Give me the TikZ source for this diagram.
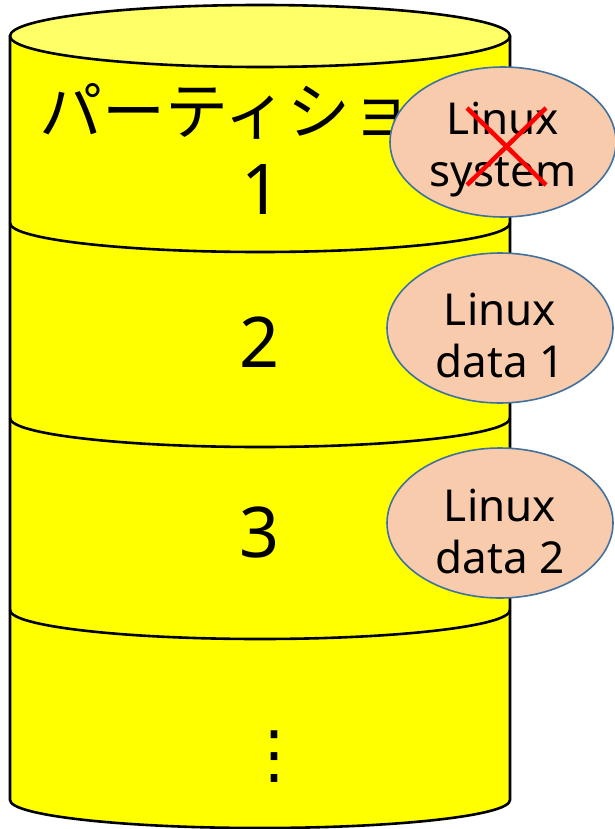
\documentclass[tikz,border=0pt]{standalone}
\usepackage{fontspec}
\setmainfont{Noto Sans}
\newfontfamily\jpfont{Noto Sans CJK JP}
\newfontfamily\symfont{DejaVu Sans}
\usetikzlibrary{shapes.geometric}

\definecolor{diskyellow}{HTML}{FFFF00}
\definecolor{lidyellow}{HTML}{FFFF66}
\definecolor{peach}{HTML}{F8CBAD}
\definecolor{rimblue}{HTML}{41719C}

\tikzset{
  osbox/.style={ellipse, draw=rimblue, fill=peach, line width=1.6pt,
    minimum width=226pt, minimum height=150pt, inner sep=0pt},
  ostext/.style={align=center, inner sep=0pt, font=\fontsize{44}{52}\selectfont},
  partnum/.style={font=\fontsize{70}{70}\selectfont}
}

\begin{document}
\begin{tikzpicture}[x=1pt,y=1pt,line width=2.6pt]
             \useasboundingbox (0,0) rectangle (615,-829);

             % disk
             \fill[diskyellow] (10,-36) -- (10,-800) arc[start angle=180, end angle=360, x radius=250, y radius=28] -- (510,-36) -- cycle;
             \draw (10,-36) -- (10,-800) arc[start angle=180, end angle=360, x radius=250, y radius=28] -- (510,-36);
             \draw[fill=lidyellow] (260,-36) ellipse [x radius=250, y radius=31];

             \draw (10,-223) arc[start angle=180, end angle=360, x radius=250, y radius=29];
             \draw (10,-418) arc[start angle=180, end angle=360, x radius=250, y radius=29];
             \draw (10,-610) arc[start angle=180, end angle=360, x radius=250, y radius=29];

             \node[font=\jpfont\fontsize{63}{63}\selectfont] (ptitle) at (258,-111) {パーティション};
             \node[partnum] (p1) at (262,-190) {1};
             \node[partnum] (p2) at (260,-342) {2};
             \node[partnum] (p3) at (260,-533) {3};
             \node[font=\symfont\fontsize{64}{64}\selectfont] (more) at (274,-757) {⋮};

             % linux parts
             \node[osbox] (sys) at (503,-142) {};
             \node[osbox] (data1) at (500,-328) {};
             \node[osbox] (data2) at (500,-523) {};
             \node[ostext] (systext) at ([yshift=-8]sys.center) {Linux\\system};
             \node[ostext] (data1text) at ([yshift=-8]data1.center) {Linux\\data 1};
             \node[ostext] (data2text) at ([yshift=-8]data2.center) {Linux\\data 2};

             \draw[red, line width=4.5pt] ([shift={(-36,34)}]sys.center) -- ([shift={(43,-43)}]sys.center);
             \draw[red, line width=4.5pt] ([shift={(43,34)}]sys.center) -- ([shift={(-36,-43)}]sys.center);
\end{tikzpicture}
\end{document}
